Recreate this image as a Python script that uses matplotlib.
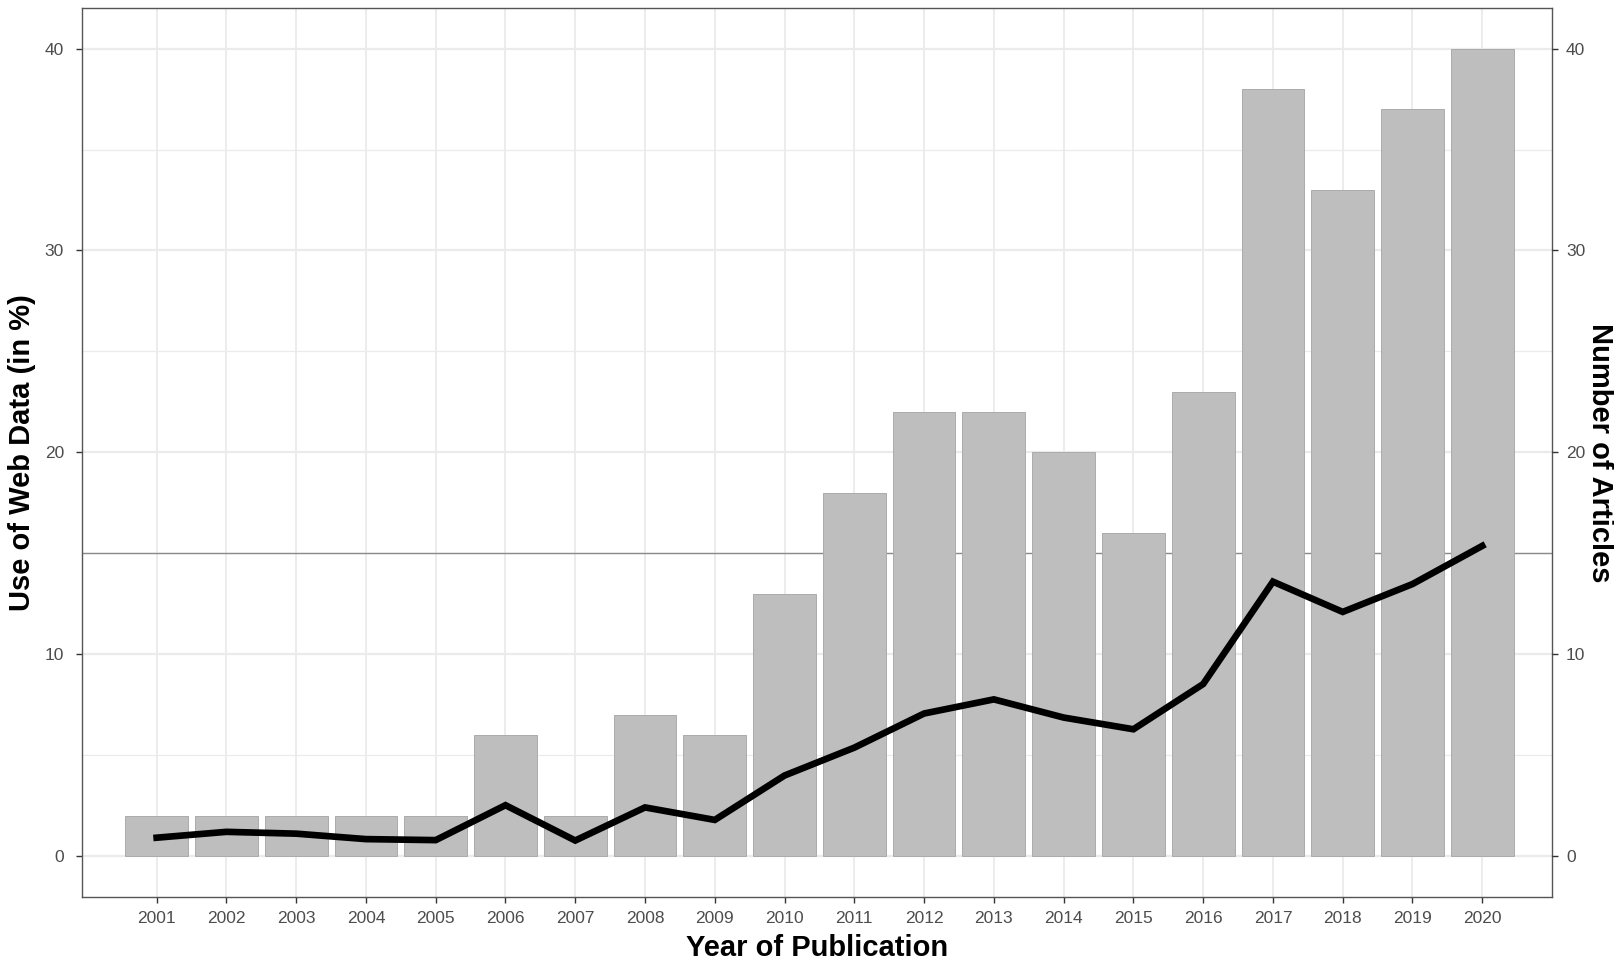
import matplotlib
matplotlib.use("Agg")
import matplotlib.pyplot as plt
import numpy as np

# data
years = [str(y) for y in range(2001, 2021)]
articles = [2, 2, 2, 2, 2, 6, 2, 7, 6, 13, 18, 22, 22, 20, 16, 23, 38, 33, 37, 40]
web_share = [0.92, 1.21, 1.12, 0.85, 0.80, 2.53, 0.78, 2.42, 1.80, 4.0,
             5.38, 7.07, 7.77, 6.87, 6.29, 8.53, 13.6, 12.1, 13.48, 15.37]
yticks = [0, 10, 20, 30, 40]
minor_yticks = [5, 15, 25, 35]

plt.rcParams['font.family'] = ['Liberation Sans', 'DejaVu Sans']

fig = plt.figure(figsize=(16.14, 9.59), dpi=100)
ax = fig.add_axes([0.0508, 0.065, 0.9108, 0.9265])
x = np.arange(1, len(years) + 1)

# grid like ggplot theme_bw
for v in yticks:
    ax.axhline(v, color='#EBEBEB', lw=1.6, zorder=0)
for v in minor_yticks:
    ax.axhline(v, color='#EBEBEB', lw=0.9, zorder=0)
for xi in x:
    ax.axvline(xi, color='#EBEBEB', lw=1.3, zorder=0)
ax.axhline(15, color='#8A8A8A', lw=1.0, zorder=1)

ax.bar(x, articles, width=0.9, color='#BEBEBE', edgecolor='#ABABAB', linewidth=0.7, zorder=2)
ax.plot(x, web_share, color='black', lw=4.8, solid_joinstyle='miter', zorder=3)

ax.set_xlim(-0.07, 21.0)
ax.set_ylim(-2, 42)
ax.set_xticks(x)
ax.set_xticklabels(years)
ax.set_yticks(yticks)
ax.tick_params(axis='both', colors='#333333', labelcolor='#4D4D4D', labelsize=12.5,
               length=4, width=1)
ax.tick_params(axis='y', pad=9)
ax.tick_params(axis='x', pad=6)
for s in ax.spines.values():
    s.set_color('#555555')
    s.set_linewidth(1.0)
ax.set_xlabel('Year of Publication', fontsize=21, fontweight='bold', labelpad=6)
ax.set_ylabel('Use of Web Data (in %)', fontsize=21, fontweight='bold', labelpad=6)

ax2 = ax.twinx()
ax2.set_ylim(-2, 42)
ax2.set_yticks(yticks)
ax2.tick_params(axis='y', colors='#333333', labelcolor='#4D4D4D', labelsize=12.5,
                length=4, width=1, pad=6)
for s in ax2.spines.values():
    s.set_visible(False)
ax2.set_ylabel('Number of Articles', fontsize=21, fontweight='bold', rotation=270,
               labelpad=21)

fig.savefig('out.png', dpi=100)
